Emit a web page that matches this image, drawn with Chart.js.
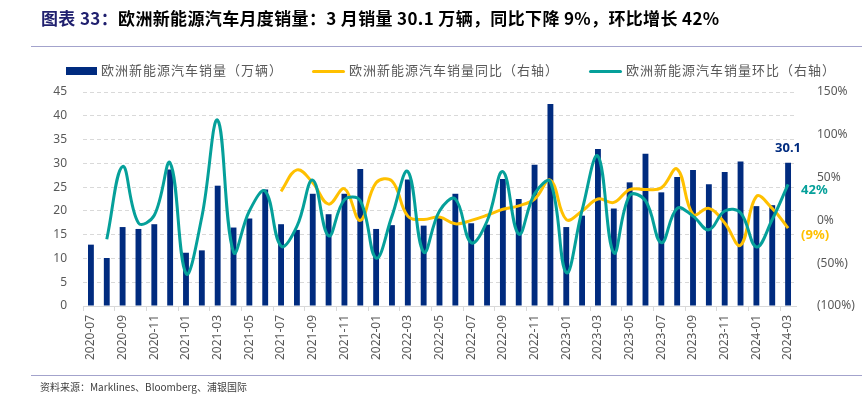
<!DOCTYPE html>
<html>
<head>
<meta charset="utf-8">
<script src="https://cdn.jsdelivr.net/npm/chart.js@4"></script>
<style>
  body { margin: 0; background: #fff; }
  #wrap { position: relative; width: 862px; height: 398px; overflow: hidden; font-family: "Noto Sans CJK SC", "Noto Sans", sans-serif; }
  #chartBox { position: absolute; left: 0; top: 0; width: 862px; height: 398px; }
  .title { position: absolute; left: 41px; top: 5px; font-size: 17px; font-weight: bold; color: #000; white-space: nowrap; letter-spacing: 0.35px; }
  .title .lead { color: #1f1f6e; }
  .rule { position: absolute; left: 31px; width: 831px; height: 1px; background: #a3a3cc; }
  .legend { position: absolute; top: 61px; font-size: 13px; color: #595959; white-space: nowrap; letter-spacing: 1px; line-height: 18px; }
  .legend span { display: inline-block; vertical-align: middle; margin-right: 4px; }
  .src { position: absolute; left: 40px; top: 379px; font-size: 10px; color: #404040; white-space: nowrap; }
</style>
</head>
<body>
<div id="wrap">
  <div id="chartBox"><canvas id="salesChart"></canvas></div>
  <div class="title"><span class="lead">图表 33：</span>欧洲新能源汽车月度销量：3 月销量 30.1 万辆，同比下降 9%，环比增长 42%</div>
  <div class="rule" style="top:46px"></div>
  <div class="legend" style="left:66px"><span style="width:31px;height:8px;background:#002b7f"></span>欧洲新能源汽车销量（万辆）</div>
  <div class="legend" style="left:312px"><span style="width:33px;height:3px;background:#ffc000;border-radius:2px"></span>欧洲新能源汽车销量同比（右轴）</div>
  <div class="legend" style="left:589px"><span style="width:33px;height:3px;background:#05a09a;border-radius:2px"></span>欧洲新能源汽车销量环比（右轴）</div>
  <div class="rule" style="top:375px"></div>
  <div class="src">资料来源：Marklines、Bloomberg、浦银国际</div>
</div>
<script>
const months = [
    '2020-07', '2020-08', '2020-09', '2020-10', '2020-11', '2020-12',
    '2021-01', '2021-02', '2021-03', '2021-04', '2021-05', '2021-06',
    '2021-07', '2021-08', '2021-09', '2021-10', '2021-11', '2021-12',
    '2022-01', '2022-02', '2022-03', '2022-04', '2022-05', '2022-06',
    '2022-07', '2022-08', '2022-09', '2022-10', '2022-11', '2022-12',
    '2023-01', '2023-02', '2023-03', '2023-04', '2023-05', '2023-06',
    '2023-07', '2023-08', '2023-09', '2023-10', '2023-11', '2023-12',
    '2024-01', '2024-02', '2024-03'
];

// 销量（万辆）
const sales = [
    12.9, 10.1, 16.6, 16.2, 17.2, 28.7,
    11.2, 11.7, 25.3, 16.5, 18.4, 24.5, 17.2, 16.0, 23.6, 19.3, 23.6, 28.8,
    16.2, 17.0, 26.6, 16.9, 18.7, 23.6, 17.4, 17.1, 26.7, 22.5, 29.7, 42.5,
    16.6, 19.0, 33.0, 20.5, 26.0, 32.0, 23.9, 27.1, 28.6, 25.6, 28.2, 30.4,
    21.0, 21.2, 30.1
];

// 同比 %，2021-07 起
const yoy = [
    null, null, null, null, null, null,
    null, null, null, null, null, null, 34, 59, 44, 19, 37, 0,
    44, 46, 5, 1, 4, -4, 0, 6, 13, 17, 25, 47,
    1, 11, 25, 21, 36, 36, 38, 60, 7, 14, -3, -29,
    28, 14, -9
];

// 环比 %，2020-08 起
const mom = [
    null, -22, 63, -3, 6, 67,
    -62, 4, 117, -37, 11, 34, -30, -7, 47, -18, 24, 23,
    -44, 5, 57, -37, 11, 25, -26, -1, 57, -16, 31, 45,
    -61, 12, 75, -38, 29, 23, -26, 14, 5, -11, 11, 9,
    -31, 1, 42
];

const tickFont = { family: "'Noto Sans', 'Noto Sans CJK SC', sans-serif", size: 12 };

function pct(v) {
    return v < 0 ? '(' + (-v) + '%)' : v + '%';
}

// last-point labels: 30.1 / 42% / (9%)
const endLabels = {
    id: 'endLabels',
    afterDatasetsDraw(chart) {
        const ctx = chart.ctx;
        ctx.save();
        ctx.font = "bold 13px 'Noto Sans', sans-serif";
        ctx.textBaseline = 'middle';

        const last = months.length - 1;
        const bar = chart.getDatasetMeta(0).data[last];
        ctx.fillStyle = '#002b7f';
        ctx.textAlign = 'center';
        ctx.fillText(sales[last].toFixed(1), bar.x, bar.y - 15);

        ctx.textAlign = 'left';
        const m = chart.getDatasetMeta(2).data[last];
        ctx.fillStyle = '#05a09a';
        ctx.fillText(pct(mom[last]), m.x + 13, m.y + 6);

        const y = chart.getDatasetMeta(1).data[last];
        ctx.fillStyle = '#ffc000';
        ctx.fillText(pct(yoy[last]), y.x + 13, y.y + 7);
        ctx.restore();
    }
};

const salesChart = new Chart(document.getElementById('salesChart'), {
    type: 'bar',
    data: {
        labels: months,
        datasets: [{
            label: '欧洲新能源汽车销量（万辆）',
            data: sales,
            backgroundColor: '#002b7f',
            categoryPercentage: 1,
            barPercentage: 0.37,
            yAxisID: 'y',
            order: 2
        }, {
            type: 'line',
            label: '欧洲新能源汽车销量同比（右轴）',
            data: yoy,
            borderColor: '#ffc000',
            borderWidth: 3,
            pointRadius: 0,
            tension: 0.4,
            yAxisID: 'y1',
            order: 1
        }, {
            type: 'line',
            label: '欧洲新能源汽车销量环比（右轴）',
            data: mom,
            borderColor: '#05a09a',
            borderWidth: 3,
            pointRadius: 0,
            tension: 0.4,
            yAxisID: 'y1',
            order: 0
        }]
    },
    options: {
        responsive: true,
        maintainAspectRatio: false,
        animation: false,
        layout: {
            padding: { top: 92, bottom: 30, left: 0, right: 0 }
        },
        scales: {
            x: {
                offset: true,
                grid: {
                    offset: true,
                    drawOnChartArea: false,
                    tickLength: 5,
                    color: (c) => c.index % 2 === 0 ? '#d9d9d9' : 'rgba(0,0,0,0)'
                },
                border: { color: '#d9d9d9' },
                ticks: {
                    autoSkip: false,
                    maxRotation: 90,
                    minRotation: 90,
                    padding: 4,
                    color: '#595959',
                    font: tickFont,
                    callback: (v, i) => i % 2 === 0 ? months[i] : ''
                },
                afterFit(s) { s.height = 62; }
            },
            y: {
                position: 'left',
                min: 0,
                max: 45,
                ticks: { stepSize: 5, padding: 16, color: '#595959', font: tickFont },
                grid: { color: '#d9d9d9', drawTicks: false, borderDash: [4, 3] },
                border: { display: false, dash: [4, 3] },
                afterFit(s) { s.width = 83; }
            },
            y1: {
                position: 'right',
                min: -100,
                max: 150,
                ticks: { stepSize: 50, padding: 13, color: '#595959', font: tickFont, callback: (v) => pct(v) },
                grid: { display: false },
                border: { display: false },
                afterFit(s) { s.width = 66; }
            }
        },
        plugins: {
            legend: { display: false },
            tooltip: { enabled: false }
        }
    },
    plugins: [endLabels]
});
</script>
</body>
</html>
